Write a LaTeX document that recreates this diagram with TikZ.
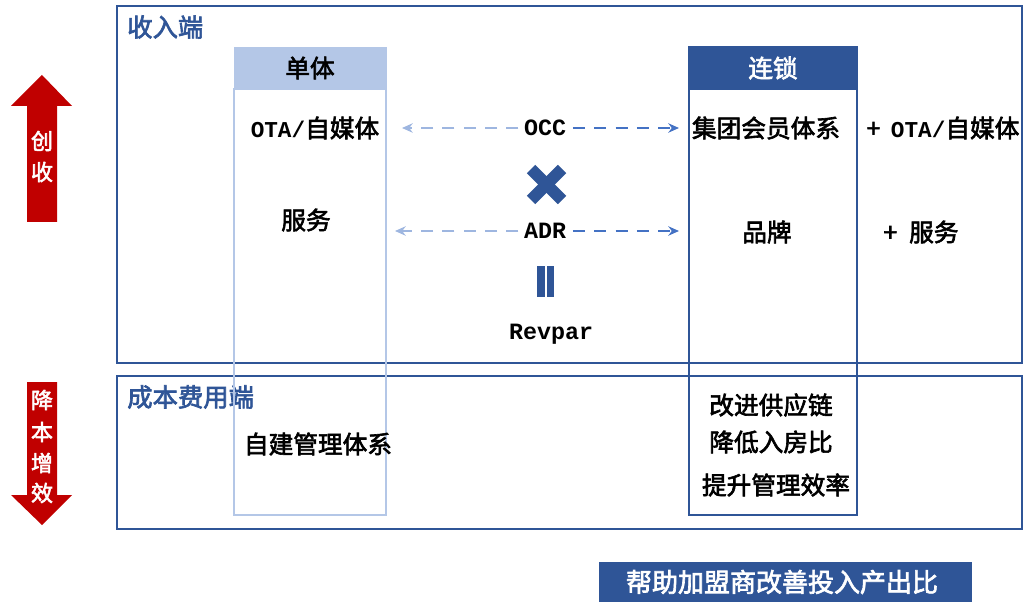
\documentclass[tikz,border=0pt]{standalone}
\usepackage{fontspec}
\usetikzlibrary{arrows.meta}
\newfontfamily\cjk[AutoFakeBold=2.5]{Noto Sans CJK SC}
\newfontfamily\mono{Liberation Mono}
\definecolor{dblue}{HTML}{2F5597}
\definecolor{lblue}{HTML}{B4C7E7}
\definecolor{mblue}{HTML}{4472C4}
\definecolor{dred}{HTML}{C00000}
\newcommand{\lat}[1]{{\mono\fontsize{17}{20}\selectfont\bfseries #1}}
\tikzset{
  frame/.style={draw=dblue, line width=2.2pt},
  sect/.style={font=\cjk\fontsize{19}{21}\selectfont\bfseries, text=dblue, anchor=west, inner sep=0pt},
  lbl/.style={font=\cjk\fontsize{18.5}{20}\selectfont\bfseries, text=black, inner sep=0pt},
  latn/.style={font=\mono\fontsize{17.5}{20}\selectfont\bfseries, text=black, inner sep=0pt},
  redtxt/.style={font=\cjk\fontsize{16.5}{18}\selectfont\bfseries, text=white, inner sep=0pt},
  dashl/.style={draw=lblue!80!mblue, line width=1.6pt, dash pattern=on 9pt off 7pt, -{Stealth[length=8pt,width=7pt]}},
  dashr/.style={draw=mblue, line width=1.6pt, dash pattern=on 9pt off 7pt, -{Stealth[length=8pt,width=7pt]}},
}
\begin{document}
\begin{tikzpicture}[x=0.75pt,y=-0.75pt]
\useasboundingbox (0,0) rectangle (1031,602);
\fill[white] (0,0) rectangle (1031,602);

% outer frames
\draw[frame] (117,6) rectangle (1022,363);
\draw[frame] (117,376) rectangle (1022,529);
\node[sect] (inc) at (127,27) {收入端};
\node[sect] (cost) at (127,397) {成本费用端};

% single column
\draw[draw=lblue, line width=2pt] (234,89) rectangle (386,515);
\fill[lblue] (234,47) rectangle (387,89);
\node[lbl] (single) at (310,68) {单体};
% chain column
\draw[draw=dblue, line width=2.2pt] (689,89) rectangle (857,515);
\fill[dblue] (688,46) rectangle (858,90);
\node[lbl, text=white] (chain) at (773,68) {连锁};

% left column texts
\node[lbl] (ota) at (315,128) {\lat{OTA/}自媒体};
\node[lbl] (svc) at (306,220) {服务};
\node[lbl] (selfm) at (318,444) {自建管理体系};

% middle
\node[latn] (occ) at (545,128) {OCC};
\node[latn] (adr) at (545,231) {ADR};
\node[latn] (rev) at (551,334) {Revpar};
\coordinate (occL) at (402,128);
\coordinate (occR) at (679,128);
\coordinate (adrL) at (395,231);
\coordinate (adrR) at (679,231);
\draw[dashl] ([xshift=-4pt]occ.west) -- (occL);
\draw[dashr] ([xshift=5pt]occ.east) -- (occR);
\draw[dashl] ([xshift=-4pt]adr.west) -- (adrL);
\draw[dashr] ([xshift=5pt]adr.east) -- (adrR);

% multiply sign
\draw[dblue, line width=9pt] (531,169) -- (562,200);
\draw[dblue, line width=9pt] (562,169) -- (531,200);
% equals-like bars
\fill[dblue] (537,266) rectangle (545,297);
\fill[dblue] (547,266) rectangle (554,297);

% right column texts
\node[lbl] (member) at (766,128) {集团会员体系};
\node[lbl] (plusota) at (943,128) {+\hspace{8pt}\lat{OTA/}自媒体};
\node[lbl] (brand) at (767,232) {品牌};
\node[lbl] (plussvc) at (921,232) {+\hspace{9pt}服务};
\node[lbl] (c1) at (771,405) {改进供应链};
\node[lbl] (c2) at (771,442) {降低入房比};
\node[lbl] (c3) at (776,485) {提升管理效率};

% red arrows
\fill[dred] (42,75) -- (72,106) -- (57,106) -- (57,222) -- (27,222) -- (27,106) -- (11,106) -- cycle;
\node[redtxt] (cs1) at (42,141) {创};
\node[redtxt] (cs2) at (42,172) {收};
\fill[dred] (27,382) -- (57,382) -- (57,495) -- (72,495) -- (42,525) -- (11,495) -- (27,495) -- cycle;
\node[redtxt] (jb1) at (42,400) {降};
\node[redtxt] (jb2) at (42,432) {本};
\node[redtxt] (jb3) at (42,463) {增};
\node[redtxt] (jb4) at (42,493) {效};

% banner
\fill[dblue] (599,562) rectangle (972,602);
\node[lbl, text=white, font=\cjk\fontsize{19.5}{21}\selectfont\bfseries] (banner) at (782,582) {帮助加盟商改善投入产出比};
\end{tikzpicture}
\end{document}
